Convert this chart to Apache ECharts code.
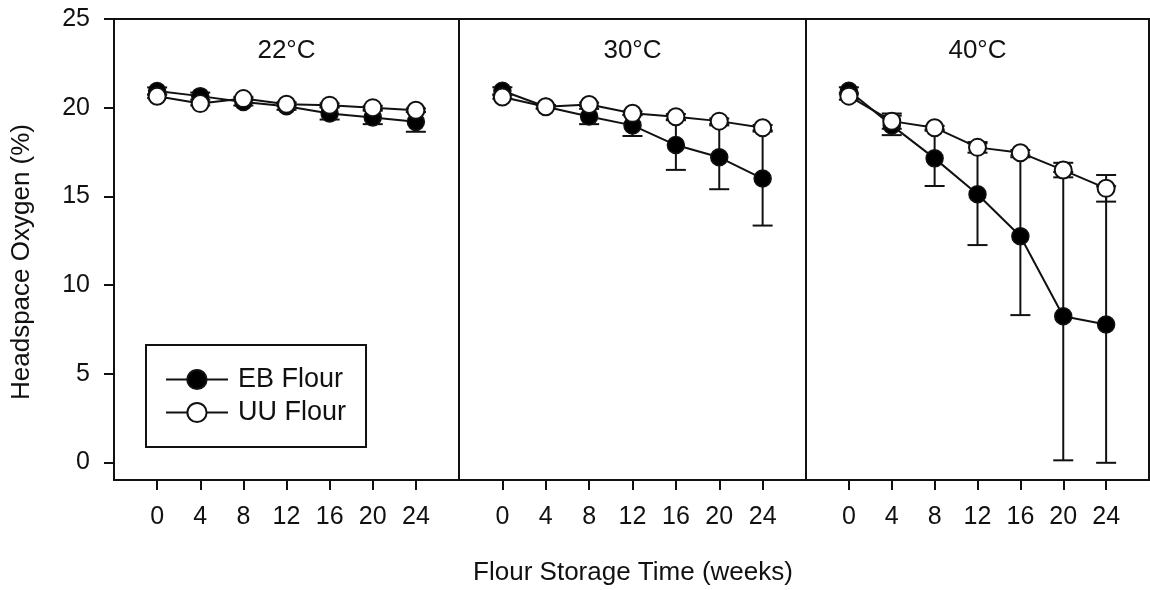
<!DOCTYPE html>
<html>
<head>
<meta charset="utf-8">
<script src="https://cdn.jsdelivr.net/npm/echarts@6.0.0/dist/echarts.min.js"></script>
<style>
html,body{margin:0;padding:0;background:#fff;}
#chart{width:1150px;height:590px;}
</style>
</head>
<body>
<div id="chart"></div>
<script>
// ---- data ----
const weeks = [0, 4, 8, 12, 16, 20, 24];
const panelLabels = ['22°C', '30°C', '40°C'];
const seriesNames = ['EB Flour', 'UU Flour'];
const xTickValues = [0, 4, 8, 12, 16, 20, 24];
const yTickValues = [0, 5, 10, 15, 20, 25];
const xTitle = 'Flour Storage Time (weeks)';
const yTitle = 'Headspace Oxygen (%)';

const eb22 = [20.94, 20.65, 20.32, 20.08, 19.67, 19.45, 19.2];
const eb22Err = [0.2, 0.2, 0.2, 0.2, 0.34, 0.38, 0.56];
const uu22 = [20.64, 20.23, 20.51, 20.19, 20.14, 20.0, 19.85];
const uu22Err = [0.1, 0.1, 0.1, 0.1, 0.1, 0.1, 0.1];

const eb30 = [20.95, 20.05, 19.5, 19.0, 17.89, 17.2, 16.0];
const eb30Err = [0.2, 0.1, 0.43, 0.6, 1.4, 1.8, 2.65];
const uu30 = [20.6, 20.05, 20.18, 19.68, 19.49, 19.24, 18.87];
const uu30Err = [0.1, 0.1, 0.1, 0.1, 0.15, 0.15, 0.15];

const eb40 = [20.95, 19.0, 17.14, 15.12, 12.75, 8.24, 7.77];
const eb40Err = [0.2, 0.55, 1.56, 2.87, 4.45, 8.13, 7.8];
const uu40 = [20.65, 19.24, 18.87, 17.76, 17.46, 16.48, 15.45];
const uu40Err = [0.2, 0.43, 0.1, 0.3, 0.15, 0.41, 0.75];

const ebPanels = [eb22, eb30, eb40];
const ebErrPanels = [eb22Err, eb30Err, eb40Err];
const uuPanels = [uu22, uu30, uu40];
const uuErrPanels = [uu22Err, uu30Err, uu40Err];

// ---- chart ----
const FONT = "'Liberation Sans', Arial, Helvetica, sans-serif";
const INK = '#111';
const chart = echarts.init(document.getElementById('chart'), null, {renderer: 'canvas'});

const gridBoxes = [
  {left: 114, width: 345},
  {left: 459, width: 347},
  {left: 806, width: 343}
];
const TOP = 19, HEIGHT = 461;

function renderErr(params, api) {
  const x = api.value(0), v = api.value(1), e = api.value(2);
  const t = api.coord([x, v + e]);
  const b = api.coord([x, v - e]);
  const hw = 10;
  const st = {stroke: INK, lineWidth: 2};
  return {
    type: 'group',
    children: [
      {type: 'line', shape: {x1: t[0], y1: t[1], x2: b[0], y2: b[1]}, style: st},
      {type: 'line', shape: {x1: t[0] - hw, y1: t[1], x2: t[0] + hw, y2: t[1]}, style: st},
      {type: 'line', shape: {x1: b[0] - hw, y1: b[1], x2: b[0] + hw, y2: b[1]}, style: st}
    ]
  };
}

const grid = [], xAxis = [], yAxis = [], series = [], graphic = [];
for (let i = 0; i < 3; i++) {
  grid.push({left: gridBoxes[i].left, width: gridBoxes[i].width, top: TOP, height: HEIGHT,
    show: true, borderColor: INK, borderWidth: 2, backgroundColor: 'transparent'});
  xAxis.push({
    type: 'value', gridIndex: i, min: -4, max: 28, interval: 4,
    axisLine: {show: true, onZero: false, lineStyle: {color: INK, width: 2}},
    axisTick: {show: true, length: 10, customValues: xTickValues, lineStyle: {color: INK, width: 2}},
    axisLabel: {show: true, customValues: xTickValues, margin: 25, fontSize: 25, color: INK, fontFamily: FONT},
    splitLine: {show: false}
  });
  yAxis.push({
    type: 'value', gridIndex: i, min: -1, max: 25,
    axisLine: {show: i === 0, onZero: false, lineStyle: {color: INK, width: 2}},
    axisTick: {show: i === 0, length: 10, customValues: yTickValues, lineStyle: {color: INK, width: 2}},
    axisLabel: {show: i === 0, customValues: yTickValues, margin: 24, fontSize: 25, color: INK, fontFamily: FONT},
    splitLine: {show: false}
  });
  const ebData = weeks.map((w, j) => [w, ebPanels[i][j], ebErrPanels[i][j]]);
  const uuData = weeks.map((w, j) => [w, uuPanels[i][j], uuErrPanels[i][j]]);
  series.push({
    type: 'custom', name: seriesNames[0] + ' err', xAxisIndex: i, yAxisIndex: i, z: 1,
    renderItem: renderErr, encode: {x: 0, y: 1}, data: ebData, silent: true
  });
  series.push({
    type: 'line', name: seriesNames[0], xAxisIndex: i, yAxisIndex: i, z: 2,
    data: weeks.map((w, j) => [w, ebPanels[i][j]]),
    symbol: 'circle', symbolSize: 17,
    lineStyle: {color: INK, width: 2},
    itemStyle: {color: '#000', borderColor: INK, borderWidth: 1.5},
    emphasis: {disabled: true}
  });
  series.push({
    type: 'custom', name: seriesNames[1] + ' err', xAxisIndex: i, yAxisIndex: i, z: 3,
    renderItem: renderErr, encode: {x: 0, y: 1}, data: uuData, silent: true
  });
  series.push({
    type: 'line', name: seriesNames[1], xAxisIndex: i, yAxisIndex: i, z: 4,
    data: weeks.map((w, j) => [w, uuPanels[i][j]]),
    symbol: 'circle', symbolSize: 17,
    lineStyle: {color: INK, width: 2},
    itemStyle: {color: '#fff', borderColor: INK, borderWidth: 2},
    emphasis: {disabled: true}
  });
  graphic.push({
    type: 'text', x: gridBoxes[i].left + gridBoxes[i].width / 2, y: 51, z: 10,
    style: {text: panelLabels[i], font: '26px ' + FONT, fill: INK, textAlign: 'center', textVerticalAlign: 'middle'}
  });
}
graphic.push({
  type: 'text', x: 633, y: 573, z: 10,
  style: {text: xTitle, font: '26px ' + FONT, fill: INK, textAlign: 'center', textVerticalAlign: 'middle'}
});
graphic.push({
  type: 'text', x: 22, y: 262, rotation: Math.PI / 2, z: 10,
  style: {text: yTitle, font: '26px ' + FONT, fill: INK, textAlign: 'center', textVerticalAlign: 'middle'}
});

chart.setOption({
  animation: false,
  backgroundColor: '#fff',
  grid: grid,
  xAxis: xAxis,
  yAxis: yAxis,
  legend: {
    data: seriesNames,
    orient: 'vertical',
    left: 146, top: 345,
    padding: [21, 20, 21, 19],
    itemGap: 6,
    itemWidth: 62, itemHeight: 24,
    borderColor: INK, borderWidth: 2,
    backgroundColor: '#fff',
    selectedMode: false,
    textStyle: {fontSize: 27, lineHeight: 26, color: INK, fontFamily: FONT, padding: [0, 0, 0, 5]}
  },
  graphic: graphic,
  series: series
});
</script>
</body>
</html>
